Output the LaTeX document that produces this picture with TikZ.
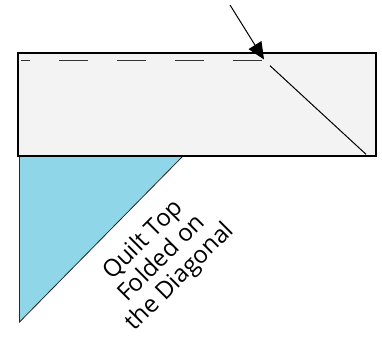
\documentclass[tikz,border=0pt]{standalone}
\usepackage{xcolor}
\usepackage{fontspec}
\setsansfont{Open Sans}
\usepackage{tikz}
\usetikzlibrary{arrows.meta}

\begin{document}
\begin{tikzpicture}[
  x=1pt, y=-1pt,
  font=\sffamily,
  quilt/.style={draw=black, fill=quiltgray, line width=1.2pt},
  folded/.style={draw=black!85, fill=quiltblue, line width=0.8pt},
  seam/.style={draw=black!80, line width=1.2pt, dash pattern=on 29pt off 29pt, dash phase=20pt},
  fold/.style={draw=black, line width=1pt},
  pointer/.style={-{Triangle[length=17pt,width=15pt]}, draw=black, line width=1pt},
  caption/.style={font=\sffamily\fontsize{24}{26}\selectfont, align=center, rotate=45, inner sep=0pt}
]
\definecolor{quiltgray}{HTML}{F2F3F2}
\definecolor{quiltblue}{HTML}{8ED6E8}

\useasboundingbox (0,0) rectangle (382,339);

% folded corner under the quilt top
\filldraw[folded] (19.5,156) -- (183,156) -- (19.5,322) -- cycle;

% quilt top
\filldraw[quilt] (18,53) rectangle (376,156);

% stitching and fold lines
\coordinate (seamstart) at (21,60.7);
\coordinate (seamend) at (262,60.7);
\draw[seam] (seamstart) -- (seamend);
\coordinate (foldtop) at (270,65.7);
\coordinate (foldbottom) at (366,154.3);
\draw[fold] (foldtop) -- (foldbottom);

% pointer to the corner
\coordinate (pointertail) at (230,5);
\coordinate (pointertip) at (264,59.5);
\draw[pointer] (pointertail) -- (pointertip);

\node[caption] (label) at (162,259) {Quilt Top\\Folded on\\the Diagonal};
\end{tikzpicture}
\end{document}
